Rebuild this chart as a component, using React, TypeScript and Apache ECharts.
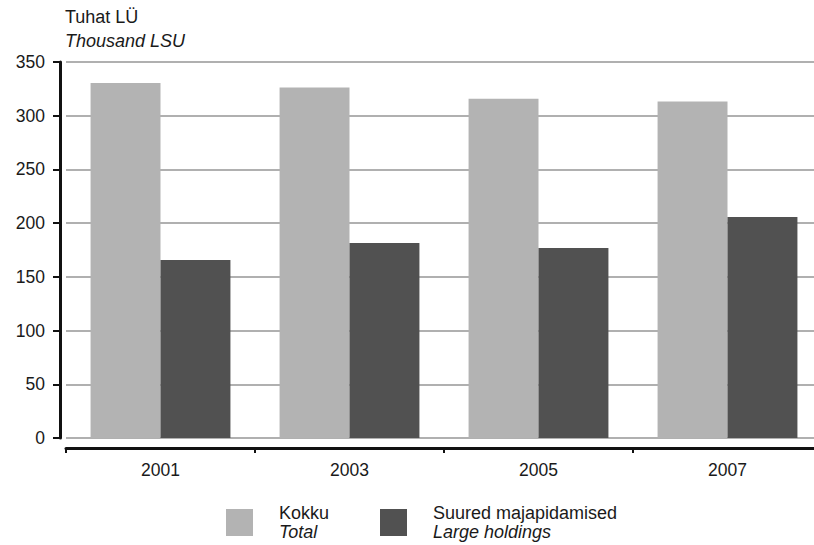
import React, { useEffect, useRef } from "react";
import * as echarts from "echarts";

const categories = ["2001", "2003", "2005", "2007"];
const totalValues = [330.4, 326.3, 315.8, 313.3];
const largeValues = [165.7, 181.5, 176.9, 205.7];
const yTicks = { min: 0, max: 350, interval: 50 };
const seriesNames = ["Kokku", "Suured majapidamised"];
const seriesNamesEn = ["Total", "Large holdings"];

const FONT = "'Liberation Sans', Arial, sans-serif";

export default function App() {
  const ref = useRef<HTMLDivElement>(null);
  useEffect(() => {
    document.body.style.margin = "0";
    if (!ref.current) return;
    const chart = echarts.init(ref.current, null, { renderer: "svg" });
    const legendBase = (i: number, left: number) => ({
      left,
      top: 504,
      padding: 0,
      orient: "horizontal",
      itemWidth: 27,
      itemHeight: 27,
      icon: "rect",
      selectedMode: false,
      data: [seriesNames[i]],
      formatter: (name: string) => `{a|${name}}\n{b|${seriesNamesEn[seriesNames.indexOf(name)]}}`,
      textStyle: {
        fontFamily: FONT,
        padding: [0, 0, 0, 21],
        rich: {
          a: { fontSize: 18, color: "#1a1a1a", fontFamily: FONT, lineHeight: 19 },
          b: { fontSize: 18, color: "#1a1a1a", fontFamily: FONT, fontStyle: "italic", lineHeight: 19 },
        },
      },
    });
    chart.setOption({
      animation: false,
      textStyle: { fontFamily: FONT },
      grid: { left: 66, top: 62, width: 756, height: 376, containLabel: false },
      graphic: [
        {
          type: "text",
          left: 65,
          top: 8,
          style: { text: "Tuhat LÜ", fontSize: 18, fontFamily: FONT, fill: "#1a1a1a" },
        },
        {
          type: "text",
          left: 65,
          top: 32,
          style: { text: "Thousand LSU", fontSize: 18, fontFamily: FONT, fontStyle: "italic", fill: "#1a1a1a" },
        },
      ],
      legend: [legendBase(0, 226), legendBase(1, 380)],
      xAxis: {
        type: "category",
        data: categories,
        offset: 10,
        axisLine: { show: true, onZero: false, lineStyle: { color: "#111", width: 3 } },
        axisTick: { show: true, length: 5, lineStyle: { color: "#111", width: 2 } },
        axisLabel: { fontSize: 17.5, color: "#1a1a1a", margin: 13, fontFamily: FONT },
        splitLine: { show: false },
      },
      yAxis: {
        type: "value",
        min: yTicks.min,
        max: yTicks.max,
        interval: yTicks.interval,
        offset: 6,
        axisLine: { show: true, lineStyle: { color: "#111", width: 3 } },
        axisTick: { show: true, length: 7, lineStyle: { color: "#111", width: 2 } },
        axisLabel: { fontSize: 17.5, color: "#1a1a1a", margin: 15, fontFamily: FONT },
        splitLine: { show: true, lineStyle: { color: "#b0b0b0", width: 2 } },
      },
      series: [
        {
          name: seriesNames[0],
          type: "bar",
          data: totalValues,
          barGap: "0%",
          barCategoryGap: "26%",
          itemStyle: { color: "#b3b3b3" },
        },
        {
          name: seriesNames[1],
          type: "bar",
          data: largeValues,
          barGap: "0%",
          barCategoryGap: "26%",
          itemStyle: { color: "#515151" },
        },
      ],
    });
    return () => chart.dispose();
  }, []);
  return (
    <div style={{ width: 814, height: 545, overflow: "hidden", position: "relative" }}>
      <div ref={ref} style={{ width: 830, height: 545 }} />
    </div>
  );
}
